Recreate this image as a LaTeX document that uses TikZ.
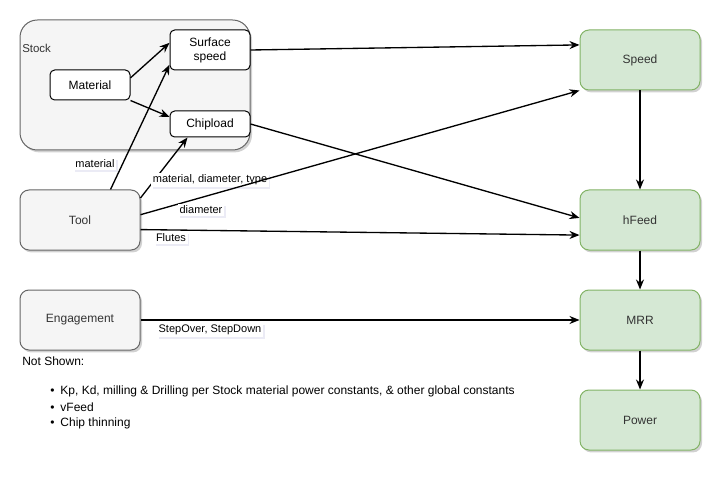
\documentclass[tikz,border=0pt]{standalone}
\usepackage{fontspec}
\setmainfont{Liberation Sans}
\usetikzlibrary{arrows.meta,shadows}
\definecolor{boxgray}{HTML}{F5F5F5}
\definecolor{boxline}{HTML}{666666}
\definecolor{txtgray}{HTML}{333333}
\definecolor{grnfill}{HTML}{D5E8D4}
\definecolor{grnline}{HTML}{82B366}
\tikzset{
  shad/.style={drop shadow={shadow xshift=1.5pt,shadow yshift=-1.8pt,opacity=0.18,fill=black}},
  nodefont/.style={font=\fontsize{9}{10.5}\selectfont},
  whitebox/.style={draw=black,fill=white,line width=0.75pt,rounded corners=3.5pt,
    align=center,inner sep=0pt,minimum width=60pt,nodefont},
  graybox/.style={draw=boxline,fill=boxgray,line width=0.75pt,rounded corners=6.75pt,
    minimum width=90pt,minimum height=45pt,inner sep=0pt,text=txtgray,nodefont,shad},
  greenbox/.style={draw=grnline,fill=grnfill,line width=0.75pt,rounded corners=6.75pt,
    minimum width=90pt,minimum height=45pt,inner sep=0pt,text=txtgray,nodefont,shad},
  container/.style={draw=boxline,fill=boxgray,line width=0.75pt,rounded corners=13pt,
    minimum width=172.5pt,minimum height=97.5pt,inner sep=0pt,shad},
  conn/.style={-{Stealth[length=7.5pt,width=6pt]},line width=1pt,black},
  elabel/.style={fill=white,inner sep=1.2pt,font=\fontsize{8.25}{9.5}\selectfont,
    drop shadow={shadow xshift=1.2pt,shadow yshift=-1.5pt,opacity=0.08,fill=blue!50!black}},
  plain/.style={inner sep=0pt,nodefont,anchor=west},
}
\begin{document}
\begin{tikzpicture}[x=0.75pt,y=-0.75pt]
\useasboundingbox (0,0) rectangle (727,477);
% container
\node[container] (stock) at (135,85) {};
\node[plain,font=\fontsize{8.6}{10}\selectfont,text=txtgray] (stocklbl) at (22,48) {Stock};
% inner white boxes
\node[whitebox,minimum height=30pt] (surf) at (210,50) {Surface\\speed};
\node[whitebox,minimum height=22.5pt] (mat) at (90,85) {Material};
\node[whitebox,minimum height=19.5pt] (chip) at (210,124) {Chipload};
% left gray boxes
\node[graybox] (tool) at (80,220) {Tool};
\node[graybox] (eng) at (80,320) {Engagement};
% right green boxes
\node[greenbox] (speed) at (640,60) {Speed};
\node[greenbox] (hfeed) at (640,220) {hFeed};
\node[greenbox] (mrr) at (640,320) {MRR};
\node[greenbox] (power) at (640,420) {Power};
% connectors
\draw[conn] (mat.10) -- (surf.170);
\draw[conn] (mat.south east) -- (chip.170);
\draw[conn] (tool.45) -- (surf.200);
\node[elabel] (lmat) at (95,164) {material};
\draw[conn] (tool.20) -- (chip.211);
\node[elabel] (lmdt) at (210,180) {material, diameter, type};
\draw[conn] (tool.5) -- (speed.south west);
\node[elabel] (ldia) at (201,210) {diameter};
\draw[conn] (tool.-9.5) -- (hfeed.194);
\node[elabel] (lflu) at (171,238) {Flutes};
\draw[conn] (surf.east) -- (speed.166);
\draw[conn] (chip.east) -- (hfeed.178);
\draw[conn] (eng.east) -- (mrr.west);
\node[elabel] (lstep) at (210,330) {StepOver, StepDown};
\draw[conn] (speed.south) -- (hfeed.north);
\draw[conn] (hfeed.south) -- (mrr.north);
\draw[conn] (mrr.south) -- (power.north);
% notes
\node[plain] (notshown) at (22,361) {Not Shown:};
\node[plain] (b1) at (50,391) {•\hspace{4.5pt}Kp, Kd, milling \& Drilling per Stock material power constants, \& other global constants};
\node[plain] (b2) at (50,407) {•\hspace{4.5pt}vFeed};
\node[plain] (b3) at (50,423) {•\hspace{4.5pt}Chip thinning};
\end{tikzpicture}
\end{document}
